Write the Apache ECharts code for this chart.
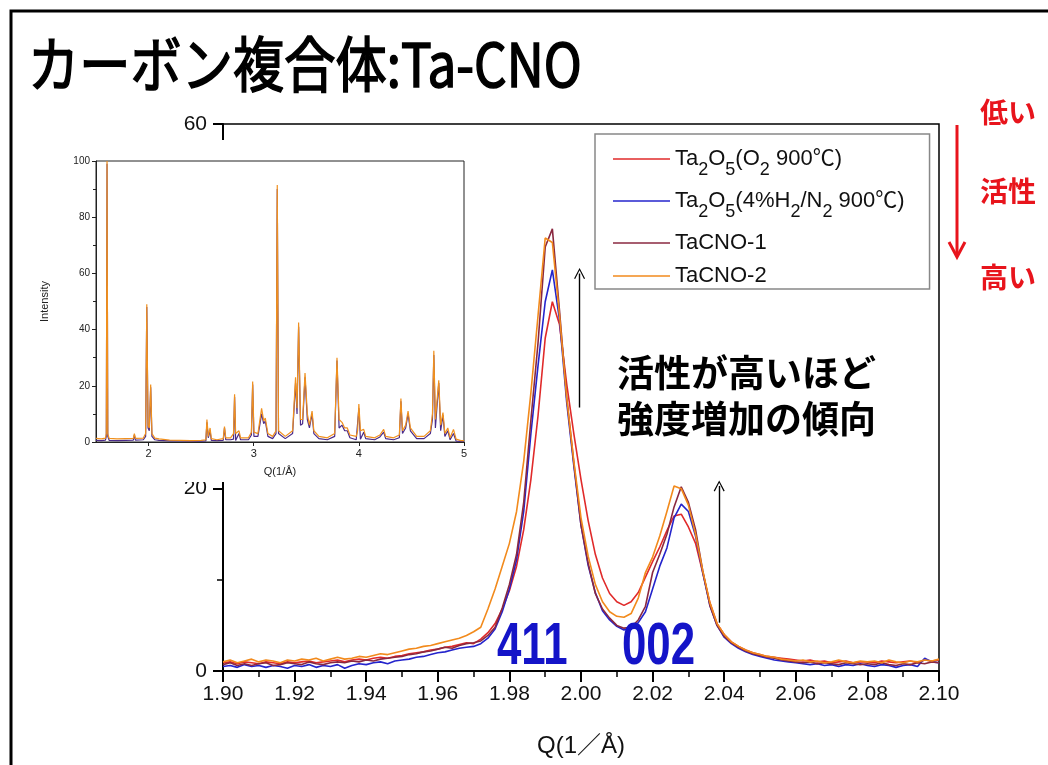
<!DOCTYPE html>
<html><head><meta charset="utf-8">
<script src="https://cdn.jsdelivr.net/npm/echarts@6/dist/echarts.min.js"></script>
<style>html,body{margin:0;padding:0;background:#fff}#c{width:1048px;height:765px}</style>
</head><body><div id="c"></div><script>
// ---- Main chart data (Q in 1/Å, intensity) ----
const Q = [
 1.900,1.902,1.904,1.906,1.908,1.910,1.912,1.914,1.916,1.918,
 1.920,1.922,1.924,1.926,1.928,1.930,1.932,1.934,1.936,1.938,
 1.940,1.942,1.944,1.946,1.948,1.950,1.952,1.954,1.956,1.958,
 1.960,1.962,1.964,1.966,1.968,1.970,1.972,1.974,1.976,1.978,
 1.980,1.982,1.984,1.986,1.988,1.990,1.992,1.994,1.996,1.998,
 2.000,2.002,2.004,2.006,2.008,2.010,2.012,2.014,2.016,2.018,
 2.020,2.022,2.024,2.026,2.028,2.030,2.032,2.034,2.036,2.038,
 2.040,2.042,2.044,2.046,2.048,2.050,2.052,2.054,2.056,2.058,
 2.060,2.062,2.064,2.066,2.068,2.070,2.072,2.074,2.076,2.078,
 2.080,2.082,2.084,2.086,2.088,2.090,2.092,2.094,2.096,2.098,
 2.100];
const ta2o5_O2 = [
 0.9,1.0,0.8,1.0,0.9,0.8,1.0,0.9,0.8,1.0,
 0.9,1.0,1.1,0.9,1.0,1.1,1.2,1.0,1.2,1.3,
 1.2,1.4,1.5,1.4,1.6,1.7,1.9,2.0,2.1,2.3,
 2.4,2.6,2.7,2.9,3.1,3.0,3.5,4.2,5.2,6.8,
 8.8,11.5,15.5,21.0,28.0,36.5,40.5,38.0,31.5,26.0,
 21.0,16.5,12.8,10.2,8.5,7.6,7.2,7.6,8.6,10.3,
 12.0,13.6,15.4,17.0,17.2,15.8,14.0,10.8,7.5,5.2,
 4.0,3.2,2.7,2.3,2.0,1.8,1.6,1.5,1.4,1.3,
 1.2,1.1,1.2,1.0,1.1,0.9,1.0,1.1,0.9,1.0,
 1.0,0.9,1.1,1.0,0.9,1.0,1.1,0.9,1.2,1.1,
 1.2];
const ta2o5_H2N2 = [
 0.5,0.6,0.4,0.7,0.5,0.6,0.4,0.6,0.5,0.3,
 0.6,0.5,0.7,0.4,0.6,0.5,0.7,0.3,0.6,0.8,
 0.7,0.9,1.0,0.8,1.1,1.2,1.3,1.5,1.6,1.8,
 2.0,2.1,2.3,2.5,2.6,2.7,3.0,3.6,4.6,6.5,
 9.0,12.2,17.5,26.0,33.5,40.5,44.0,38.5,29.5,22.5,
 16.0,11.6,8.6,6.6,5.6,4.9,4.5,4.8,5.3,6.5,
 9.0,11.5,13.5,16.8,18.3,17.5,14.8,10.8,7.2,5.0,
 3.7,3.0,2.5,2.1,1.8,1.6,1.4,1.2,1.1,1.0,
 0.9,0.8,0.7,0.8,0.6,0.7,0.5,0.7,0.6,0.8,
 0.6,0.5,0.7,0.6,0.4,0.6,0.7,0.5,1.4,1.0,
 0.9];
const tacno1 = [
 0.7,0.9,0.6,0.8,0.6,0.8,0.9,0.6,0.7,0.9,
 0.8,0.7,1.0,0.8,0.7,0.9,1.0,0.9,1.1,1.0,
 1.2,1.1,1.3,1.4,1.5,1.6,1.8,1.9,2.1,2.2,
 2.4,2.6,2.5,2.8,3.0,3.1,3.3,3.9,4.8,6.9,
 9.5,12.8,18.5,27.5,36.0,46.5,48.5,39.5,30.0,22.8,
 16.0,11.8,8.5,6.8,5.8,5.0,4.7,4.8,5.6,7.1,
 10.8,12.8,15.0,18.0,20.2,18.5,15.5,11.0,7.2,5.0,
 3.8,3.1,2.6,2.2,1.9,1.7,1.5,1.4,1.2,1.1,
 1.0,0.9,1.0,0.8,0.9,0.8,0.7,0.9,0.8,0.7,
 0.8,0.7,0.9,0.7,0.6,0.8,0.7,0.9,0.8,1.0,
 0.9];
const tacno2 = [
 1.0,1.2,0.9,1.1,1.3,1.0,1.2,1.1,0.9,1.2,
 1.1,1.3,1.2,1.4,1.1,1.3,1.5,1.3,1.4,1.6,
 1.5,1.7,1.9,1.8,2.0,2.2,2.4,2.5,2.7,2.8,
 3.0,3.2,3.4,3.6,3.9,4.3,4.8,6.8,9.0,11.5,
 14.0,17.5,23.0,30.5,39.0,47.5,47.0,39.0,30.0,23.0,
 16.8,12.6,9.5,7.6,6.5,6.0,5.9,6.3,8.0,10.8,
 12.5,14.8,17.5,20.3,20.0,18.2,15.0,11.0,7.5,5.2,
 4.0,3.2,2.7,2.3,2.0,1.8,1.6,1.5,1.3,1.2,
 1.1,1.2,1.0,1.1,0.9,1.0,1.2,1.0,0.9,1.1,
 1.0,1.1,0.9,1.2,1.0,0.9,1.1,1.0,1.2,1.1,
 1.3];
const seriesNames = ['Ta2O5(O2 900℃)', 'Ta2O5(4%H2/N2 900℃)', 'TaCNO-1', 'TaCNO-2'];
const xTickLabels = ['1.90','1.92','1.94','1.96','1.98','2.00','2.02','2.04','2.06','2.08','2.10'];
const peakLabels = ['411', '002'];

// ---- Inset (wide Q range) ----
const insetQ = [
 1.50,1.55,1.59,1.598,1.605,1.612,1.625,1.70,1.78,1.855,
 1.865,1.875,1.95,1.972,1.983,1.995,2.007,2.020,2.032,2.06,
 2.10,2.20,2.30,2.40,2.50,2.545,2.555,2.568,2.585,2.597,
 2.65,2.71,2.722,2.734,2.78,2.808,2.818,2.828,2.860,2.875,
 2.95,2.978,2.990,3.002,3.04,3.075,3.095,3.110,3.135,3.18,
 3.212,3.224,3.236,3.30,3.37,3.398,3.412,3.427,3.445,3.465,
 3.488,3.51,3.53,3.555,3.572,3.62,3.70,3.77,3.792,3.812,
 3.840,3.865,3.890,3.915,3.975,3.988,4.000,4.015,4.046,4.065,
 4.15,4.20,4.236,4.255,4.33,4.385,4.400,4.415,4.445,4.468,
 4.49,4.55,4.62,4.68,4.700,4.713,4.728,4.760,4.778,4.800,
 4.818,4.846,4.868,4.900,4.925,4.97,5.00];
const insetTaCNO2 = [
 1.3,1.1,1.4,3,100,3,1.3,1.1,1.2,1.3,
 3,1.3,1.4,3,49,6,5,20.5,3,1.4,
 1.1,0.7,0.6,0.5,0.6,0.8,8,2,5,1.2,
 0.8,1.2,5.5,1.5,1.5,3,17,3,4,1.5,
 1.5,3.5,21.5,3.5,3,12,7.5,8.5,3,2,
 4,91.5,4,2,4,23,12,42.5,8,8,
 24.5,10,6,11,4,2,1.5,3,30,8,
 7,5,5,2.5,2,4,13.5,4,4.5,2,
 1.5,2.5,4.5,2,1.5,2.5,15.5,4,6,11,
 5,2,2,4,10,32.5,8,22,6,10.5,
 3,5,1.5,4.5,1,0.5,0.5];
const insetTaCNO1 = [
 0.6,0.5,0.7,2,99,2,0.6,0.5,0.6,0.7,
 2.5,0.7,0.8,2,48,5,4,19.5,2,0.8,
 0.6,0.4,0.4,0.3,0.3,0.4,7,1.5,4,0.6,
 0.5,0.6,5,0.8,0.8,1,16,0.5,3,0.8,
 0.8,2.5,20.5,2,2,10,6.5,7.5,2,1.2,
 3,90,3,1.2,3,21,10,41,6,6.5,
 23,8,5,10,3,1.2,0.8,2,29,5,
 6,4,4,1.5,0.8,1,12,1,3.5,1.2,
 0.8,1.8,3.5,1.2,0.8,1.5,14.5,3,5,10,
 4,1.2,1.2,3,8,31,5,21,4,9.5,
 2,4,0.8,3,0.3,0.2,0.3];
const insetXTicks = [2, 3, 4, 5];

// ---- build ----
const pairs = (xs, arr) => xs.map((q, i) => [q, arr[i]]);
const mainValues = [ta2o5_O2, ta2o5_H2N2, tacno1, tacno2];
const mainColors = ['#e02a2a', '#2424cc', '#8a2840', '#f28a1c'];
const legendRich = {
  'Ta2O5(O2 900℃)': '{n|Ta}{s|2}{n|O}{s|5}{n|(O}{s|2}{n| 900℃)}',
  'Ta2O5(4%H2/N2 900℃)': '{n|Ta}{s|2}{n|O}{s|5}{n|(4%H}{s|2}{n|/N}{s|2}{n| 900℃)}',
  'TaCNO-1': '{n|TaCNO-1}',
  'TaCNO-2': '{n|TaCNO-2}'
};
const FONT = '"Liberation Sans", Arial, "Noto Sans CJK JP", sans-serif';
const JP = '"Noto Sans CJK JP", sans-serif';

const chart = echarts.init(document.getElementById('c'), null, {renderer: 'canvas'});

const mainSeries = seriesNames.map((name, k) => ({
  name, type: 'line', xAxisIndex: 0, yAxisIndex: 0,
  data: pairs(Q, mainValues[k]), symbol: 'none', showSymbol: false,
  lineStyle: {color: mainColors[k], width: 1.6}, itemStyle: {color: mainColors[k]},
  z: 2 + k, silent: true
}));
const chevron = 'path://M0,10 L5,0 L10,10 L9,10.6 L5,2.2 L1,10.6 Z';
mainSeries[3].markLine = {
  silent: true, symbol: ['none', chevron], symbolSize: [11, 11],
  label: {show: false},
  lineStyle: {color: '#000', width: 1.4, type: 'solid'},
  data: [
    [{coord: [1.9996, 28.9]}, {coord: [1.9996, 43.6]}],
    [{coord: [2.0386, 5.3]}, {coord: [2.0386, 20.3]}]
  ]
};

const option = {
  animation: false,
  backgroundColor: '#fff',
  grid: [
    {left: 223, top: 124, width: 716, height: 547, show: true, borderColor: '#000', borderWidth: 1.5, backgroundColor: 'transparent', z: 0},
    {left: 96, top: 161, width: 368, height: 281, show: true, borderColor: '#222', borderWidth: 1, z: 3}
  ],
  legend: {
    data: seriesNames, orient: 'vertical', left: 595, top: 134,
    icon: 'rect', itemWidth: 57, itemHeight: 1.6, itemGap: 11,
    padding: [14, 25, 2, 18],
    borderColor: '#888', borderWidth: 1.5, backgroundColor: '#fff',
    selectedMode: false, z: 6,
    formatter: name => legendRich[name],
    textStyle: {
      color: '#111', fontSize: 22, fontFamily: FONT,
      rich: {
        n: {fontSize: 22, fontFamily: FONT, color: '#111'},
        s: {fontSize: 18, fontFamily: FONT, color: '#111', padding: [22, 0, 0, 0]}
      }
    }
  },
  xAxis: [
    {
      type: 'value', gridIndex: 0, min: 1.90, max: 2.10, interval: 0.02,
      name: 'Q(1／Å)', nameLocation: 'middle', nameGap: 63,
      nameTextStyle: {fontSize: 24, fontFamily: FONT, color: '#111'},
      axisLine: {show: true, onZero: false, lineStyle: {color: '#000', width: 2}},
      axisTick: {show: true, inside: false, length: 11, lineStyle: {color: '#000', width: 2}},
      minorTick: {show: true, splitNumber: 2, length: 6, lineStyle: {color: '#000', width: 1.5}},
      axisLabel: {fontSize: 21, fontFamily: FONT, color: '#111', margin: 13,
        formatter: v => { const i = Math.round((v - 1.90) / 0.02); return xTickLabels[i] !== undefined ? xTickLabels[i] : ''; }},
      splitLine: {show: false}, z: 0
    },
    {
      type: 'value', gridIndex: 1, min: 1.5, max: 5,
      name: 'Q(1/Å)', nameLocation: 'middle', nameGap: 24,
      nameTextStyle: {fontSize: 11, fontFamily: FONT, color: '#222'},
      axisLine: {show: true, onZero: false, lineStyle: {color: '#222', width: 1}},
      axisTick: {show: true, length: 4, customValues: insetXTicks, lineStyle: {color: '#222'}},
      axisLabel: {fontSize: 11, fontFamily: FONT, color: '#222', margin: 6, customValues: insetXTicks},
      splitLine: {show: false}, z: 4
    }
  ],
  yAxis: [
    {
      type: 'value', gridIndex: 0, min: 0, max: 60, interval: 20,
      axisLine: {show: true, onZero: false, lineStyle: {color: '#000', width: 2}},
      axisTick: {show: true, length: 10, lineStyle: {color: '#000', width: 2}},
      minorTick: {show: true, splitNumber: 2, length: 6, lineStyle: {color: '#000', width: 1.5}},
      axisLabel: {fontSize: 21, fontFamily: FONT, color: '#111', margin: 16},
      splitLine: {show: false}, z: 0
    },
    {
      type: 'value', gridIndex: 1, min: 0, max: 100, interval: 20,
      name: 'Intensity', nameLocation: 'middle', nameGap: 46, nameRotate: 90,
      nameTextStyle: {fontSize: 11, fontFamily: FONT, color: '#222'},
      axisLine: {show: true, onZero: false, lineStyle: {color: '#222', width: 1}},
      axisTick: {show: true, length: 4, lineStyle: {color: '#222'}},
      minorTick: {show: true, splitNumber: 2, length: 3, lineStyle: {color: '#222'}},
      axisLabel: {fontSize: 10, fontFamily: FONT, color: '#222', margin: 6},
      splitLine: {show: false}, z: 4
    }
  ],
  series: mainSeries.concat([
    {name: 'inset TaCNO-1', type: 'line', xAxisIndex: 1, yAxisIndex: 1, data: pairs(insetQ, insetTaCNO1),
      symbol: 'none', lineStyle: {color: '#4a2a8a', width: 1.2}, z: 5, silent: true},
    {name: 'inset TaCNO-2', type: 'line', xAxisIndex: 1, yAxisIndex: 1, data: pairs(insetQ, insetTaCNO2),
      symbol: 'none', lineStyle: {color: '#f0901e', width: 1.2}, z: 6, silent: true}
  ]),
  graphic: [
    {type: 'rect', z: 1, shape: {x: 20, y: 140, width: 460, height: 342}, style: {fill: '#fff'}, silent: true},
    {type: 'rect', z: 100, shape: {x: 11, y: 11, width: 1100, height: 800}, style: {fill: 'none', stroke: '#000', lineWidth: 3}, silent: true},
    {type: 'text', z: 100, x: 28, y: 64, scaleX: 0.854,
      style: {text: 'カーボン複合体:Ta-CNO', font: 'normal 60px ' + JP, fill: '#000', stroke: '#000', lineWidth: 1.6, textVerticalAlign: 'middle', verticalAlign: 'middle'}},
    {type: 'text', z: 100, x: 980, y: 112, style: {text: '低い', font: 'bold 28px ' + JP, fill: '#e8141c', textVerticalAlign: 'middle', verticalAlign: 'middle'}},
    {type: 'text', z: 100, x: 980, y: 191, style: {text: '活性', font: 'bold 28px ' + JP, fill: '#e8141c', textVerticalAlign: 'middle', verticalAlign: 'middle'}},
    {type: 'text', z: 100, x: 980, y: 277, style: {text: '高い', font: 'bold 28px ' + JP, fill: '#e8141c', textVerticalAlign: 'middle', verticalAlign: 'middle'}},
    {type: 'line', z: 100, shape: {x1: 957, y1: 125, x2: 957, y2: 256}, style: {stroke: '#e8141c', lineWidth: 3}},
    {type: 'polyline', z: 100, shape: {points: [[949, 242], [957, 257], [965, 242]]}, style: {stroke: '#e8141c', lineWidth: 3, fill: 'none'}},
    {type: 'text', z: 100, x: 617, y: 350,
      style: {text: '活性が高いほど\n強度増加の傾向', font: 'bold 37px ' + JP, lineHeight: 46, fill: '#000', textVerticalAlign: 'top', verticalAlign: 'top'}},
    {type: 'text', z: 100, x: 497, y: 647, scaleX: 0.73,
      style: {text: peakLabels[0], font: 'bold 60px ' + FONT, fill: '#1414c8', textVerticalAlign: 'middle', verticalAlign: 'middle'}},
    {type: 'text', z: 100, x: 622, y: 647, scaleX: 0.73,
      style: {text: peakLabels[1], font: 'bold 60px ' + FONT, fill: '#1414c8', textVerticalAlign: 'middle', verticalAlign: 'middle'}}
  ]
};
chart.setOption(option);
</script></body></html>
